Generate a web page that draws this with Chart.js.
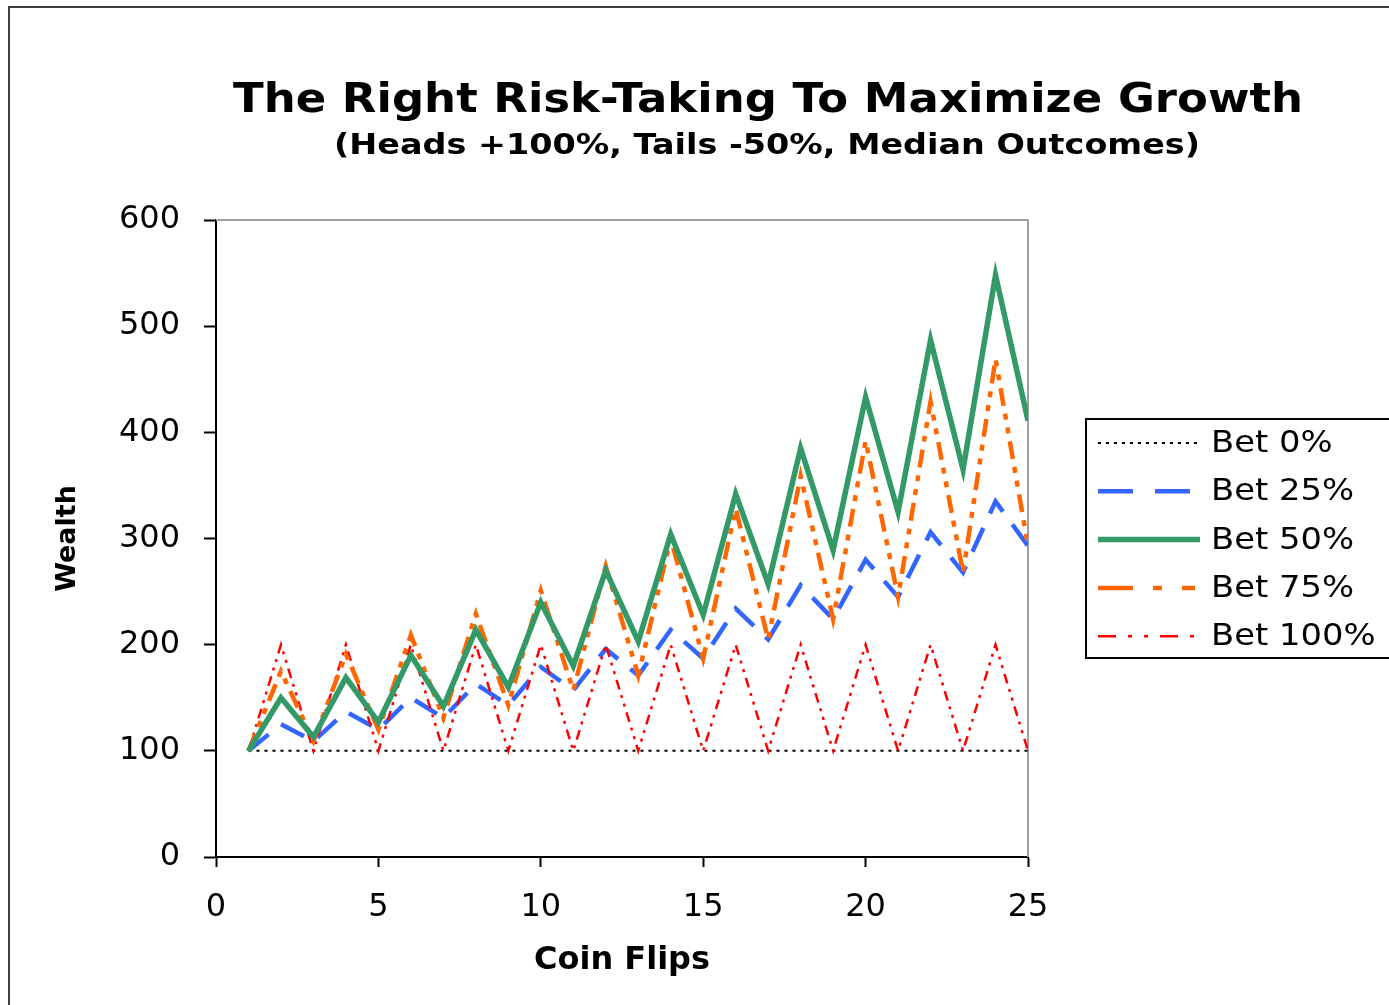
<!DOCTYPE html>
<html>
<head>
<meta charset="utf-8">
<script src="https://cdn.jsdelivr.net/npm/chart.js@4.4.1/dist/chart.umd.min.js"></script>
<style>
  html, body { margin: 0; padding: 0; background: #fff; }
  #wrap { width: 1389px; height: 1005px; }
</style>
</head>
<body>
<div id="wrap"><canvas id="chart" width="1389" height="1005"></canvas></div>
<script>
// coin flips (x) and median wealth for each bet size
const flips = [1, 2, 3, 4, 5, 6, 7, 8, 9, 10, 11, 12, 13, 14, 15, 16, 17, 18, 19, 20, 21, 22, 23, 24, 25];
const bet0   = [100, 100, 100, 100, 100, 100, 100, 100, 100, 100, 100, 100, 100, 100, 100, 100, 100, 100, 100, 100, 100, 100, 100, 100, 100];
const bet25  = [100, 125, 109, 137, 120, 150, 131, 163, 143, 179, 157, 196, 171, 214, 187, 234, 205, 256, 224, 280, 245, 306, 268, 335, 293];
const bet50  = [100, 150, 113, 169, 127, 190, 142, 214, 160, 240, 180, 270, 203, 304, 228, 342, 257, 385, 289, 433, 325, 487, 365, 548, 411];
const bet75  = [100, 175, 109, 191, 120, 209, 131, 229, 143, 251, 157, 274, 171, 300, 187, 328, 205, 359, 224, 392, 245, 429, 268, 469, 293];
const bet100 = [100, 200, 100, 200, 100, 200, 100, 200, 100, 200, 100, 200, 100, 200, 100, 200, 100, 200, 100, 200, 100, 200, 100, 200, 100];

const xTicks = [0, 5, 10, 15, 20, 25];
const yTicks = [0, 100, 200, 300, 400, 500, 600];

const titleText = 'The Right Risk-Taking To Maximize Growth';
const subtitleText = '(Heads +100%, Tails -50%, Median Outcomes)';

const FONT = '"DejaVu Sans", Verdana, sans-serif';

const pts = arr => arr.map((v, i) => ({ x: flips[i], y: v }));

// Plugin : cadre, titres, bordure grise de la zone de tracé, légende
const decorPlugin = {
    id: 'decor',
    beforeDatasetsDraw(chart) {
        const { ctx, chartArea: { left, top, right, bottom } } = chart;
        ctx.save();
        ctx.strokeStyle = '#a0a0a0';
        ctx.lineWidth = 2;
        ctx.beginPath();
        ctx.moveTo(left, top);
        ctx.lineTo(right, top);
        ctx.lineTo(right, bottom);
        ctx.stroke();
        ctx.restore();
    },
    afterDraw(chart) {
        const { ctx } = chart;
        ctx.save();
        // outer frame
        ctx.strokeStyle = '#404040';
        ctx.lineWidth = 2;
        ctx.beginPath();
        ctx.moveTo(9, 1005);
        ctx.lineTo(9, 7);
        ctx.lineTo(1389, 7);
        ctx.stroke();

        // titles, stretched to the reference width
        const stretched = (text, font, cx, cy, w) => {
            ctx.font = font;
            const m = ctx.measureText(text).width;
            ctx.save();
            ctx.translate(cx, cy);
            ctx.scale(w / m, 1);
            ctx.textAlign = 'center';
            ctx.textBaseline = 'middle';
            ctx.fillStyle = '#000';
            ctx.fillText(text, 0, 0);
            ctx.restore();
        };
        stretched(titleText, 'bold 41px ' + FONT, 768, 101, 1070);
        stretched(subtitleText, 'bold 29px ' + FONT, 767, 146, 866);

        // legend
        const lx = 1086, ly = 419, lw = 320, lh = 239;
        ctx.fillStyle = '#fff';
        ctx.fillRect(lx, ly, lw, lh);
        ctx.strokeStyle = '#000';
        ctx.lineWidth = 2;
        ctx.strokeRect(lx, ly, lw, lh);
        chart.data.datasets.forEach((ds, i) => {
            const y = 443 + i * 48.3;
            ctx.save();
            ctx.strokeStyle = ds.borderColor;
            ctx.lineWidth = ds.borderWidth;
            ctx.setLineDash(ds.legendDash || ds.borderDash || []);
            ctx.beginPath();
            ctx.moveTo(1098, y);
            ctx.lineTo(1200, y);
            ctx.stroke();
            ctx.restore();
            stretchedLeft(ds.label, 1211, y + 1);
        });
        ctx.restore();

        function stretchedLeft(text, x, y) {
            ctx.font = '31px ' + FONT;
            const m = ctx.measureText(text).width;
            ctx.save();
            ctx.translate(x, y);
            ctx.scale(1.09, 1);
            ctx.fillStyle = '#000';
            ctx.textAlign = 'left';
            ctx.textBaseline = 'middle';
            ctx.fillText(text, 0, 0);
            ctx.restore();
        }
    },
};

new Chart(document.getElementById('chart'), {
    type: 'line',
    plugins: [decorPlugin],
    data: {
        datasets: [
            {
                label: 'Bet 0%',
                data: pts(bet0),
                borderColor: '#000000',
                borderWidth: 2,
                borderDash: [3, 5],
                order: 4,
            },
            {
                label: 'Bet 25%',
                data: pts(bet25),
                borderColor: '#3366FF',
                borderWidth: 4.5,
                borderDash: [26, 16],
                legendDash: [35, 22],
                order: 3,
            },
            {
                label: 'Bet 50%',
                data: pts(bet50),
                borderColor: '#339966',
                borderWidth: 5.5,
                order: 0,
            },
            {
                label: 'Bet 75%',
                data: pts(bet75),
                borderColor: '#FF6600',
                borderWidth: 4.5,
                borderDash: [18, 8, 6, 8, 6, 8],
                legendDash: [35, 20, 9, 20, 13, 100],
                order: 1,
            },
            {
                label: 'Bet 100%',
                data: pts(bet100),
                borderColor: '#FF0000',
                borderWidth: 2.5,
                borderDash: [10, 6, 3, 6, 3, 6],
                legendDash: [18, 12, 4, 12, 4, 12, 18, 12, 4, 100],
                order: 2,
            },
        ],
    },
    options: {
        responsive: false,
        animation: false,
        events: [],
        layout: { padding: { left: 40, top: 220, right: 361, bottom: 20 } },
        elements: {
            line: { tension: 0, fill: false, borderCapStyle: 'butt' },
            point: { radius: 0 },
        },
        plugins: {
            legend: { display: false },
            tooltip: { enabled: false },
            title: { display: false },
        },
        scales: {
            x: {
                type: 'linear',
                min: 0,
                max: 25,
                afterFit: s => { s.height = 128; },
                afterBuildTicks: s => { s.ticks = xTicks.map(v => ({ value: v })); },
                grid: {
                    drawOnChartArea: false,
                    drawTicks: true,
                    tickLength: 10,
                    tickWidth: 2,
                    tickColor: '#000',
                },
                border: { display: true, color: '#000', width: 2 },
                ticks: {
                    color: '#000',
                    font: { family: FONT, size: 32 },
                    padding: 21,
                    maxRotation: 0,
                },
                title: {
                    display: true,
                    text: 'Coin Flips',
                    color: '#000',
                    font: { family: FONT, size: 32, weight: 'bold' },
                    padding: { top: 0, bottom: 5 },
                },
            },
            y: {
                type: 'linear',
                min: 0,
                max: 600,
                afterFit: s => { s.width = 176; },
                afterBuildTicks: s => { s.ticks = yTicks.map(v => ({ value: v })); },
                grid: {
                    drawOnChartArea: false,
                    drawTicks: true,
                    tickLength: 12,
                    tickWidth: 2,
                    tickColor: '#000',
                },
                border: { display: true, color: '#000', width: 2 },
                ticks: {
                    color: '#000',
                    font: { family: FONT, size: 32 },
                    padding: 24,
                },
                title: {
                    display: true,
                    text: 'Wealth',
                    color: '#000',
                    font: { family: FONT, size: 27, weight: 'bold' },
                    padding: { top: 12, bottom: 0 },
                },
            },
        },
    },
});
</script>
</body>
</html>
